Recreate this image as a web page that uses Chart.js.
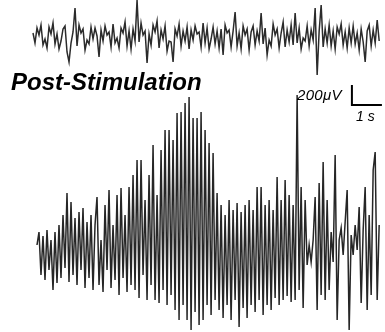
<!DOCTYPE html>
<html>
<head>
<meta charset="utf-8">
<script src="https://cdn.jsdelivr.net/npm/chart.js@4.4.0/dist/chart.umd.min.js"></script>
<style>
  body { margin: 0; background: #fff; }
  #wrap { position: relative; width: 385px; height: 332px; }
  .lbl { position: absolute; font-family: "Liberation Sans", Arial, sans-serif; font-style: italic; color: #000; white-space: nowrap; }
  #title { left: 11px; top: 68px; font-size: 24px; font-weight: bold; }
  #uv { left: 297px; top: 86px; font-size: 15px; letter-spacing: 0.3px; }
  #sec { left: 356px; top: 108px; font-size: 14px; }
</style>
</head>
<body>
<div id="wrap">
  <canvas id="eeg"></canvas>
  <div class="lbl" id="title">Post-Stimulation</div>
  <div class="lbl" id="uv">200μV</div>
  <div class="lbl" id="sec">1 s</div>
</div>
<script>
// sampling (seconds) and trace offsets (µV)
const dt = 0.0667;
const preStart = 1.1;
const postStart = 1.233;
const preBase = -370;
const postBase = -2550;

// baseline trace (top), µV
const preValues = [
  40, -60, 90, 20, 120, -80, -20, -110, 100, 30,
  140, -70, 30, -120, -40, 80, 110, -150, -250, -60,
  50, 290, -90, 120, 40, 80, -130, -30, -70, 100,
  -20, 90, 10, -200, 70, -40, 110, 20, 50, -100,
  130, -60, -10, -110, 90, 40, 150, -90, 60, -120,
  80, -40, 370, -50, 140, 20, 60, -260, 30, -80,
  120, 50, 160, -110, 70, -20, 110, -140, -40, -50,
  -250, 80, 10, 130, -90, 60, -40, 100, -120, 70,
  -30, 110, 30, 50, -100, 140, -60, 90, -120, -20,
  100, -70, 60, -110, 80, -180, 120, 40, 70, -100,
  60, 250, -90, 40, -120, 110, 20, 80, -130, 50,
  110, -80, 60, -40, 240, -70, 90, -180, -30, -90,
  130, 20, 80, -110, 40, 150, -100, 70, -50, 120,
  -80, 240, -60, 90, -120, -10, -40, 110, -90, 70,
  -30, 290, -380, 60, 320, -100, 80, -60, 120, -90,
  60, -120, 100, 30, 130, -80, 50, -110, 90, -60,
  110, -70, 40, -130, 80, -50, -250, 60, 120, -90,
  70, -60, 170, -40
];

// post-stimulation trace (bottom), µV
const postValues = [
  100, 230, -200, 190, -250, 250, -150, 150, -350, 230,
  -280, 300, -230, 400, -130, 620, -270, 530, -200, 370,
  -300, 430, -150, 470, -330, 330, -230, 400, -350, 300,
  580, -300, 150, -370, 500, -150, 650, -330, 300, -250,
  600, -400, 670, -230, 400, -370, 680, -300, 800, -350,
  950, -430, 950, -200, 550, -450, 800, -300, 1100, -450,
  600, -480, 1050, -350, 1250, -500, 1250, -400, 1150, -550,
  1420, -650, 1430, -500, 1520, -650, 1580, -750, 1370, -570,
  1370, -700, 1430, -650, 1250, -500, 1120, -600, 1020, -450,
  620, -550, 500, -630, 400, -500, 550, -650, 450, -450,
  520, -720, 430, -530, 500, -630, 550, -500, 450, -570,
  680, -450, 680, -600, 500, -500, 550, -550, 450, -430,
  780, -500, 550, -450, 750, -410, 600, -470, 500, -450,
  1600, -350, 680, -530, 550, -100, 100, -70, 150, 580,
  -550, 720, -400, 930, -450, 550, -350, 230, -70, 1000,
  -650, 150, 270, 0, 330, 650, -750, 200, 0, 300,
  50, 480, -480, 250, 680, -550, 400, -400, 850, 1030,
  -450, 300
];

// scale bar: 1 s x 200 µV
const barX = [11.73, 11.73, 12.73];
const barY = [-850, -1050, -1050];

const toPoints = (vals, t0, base) => vals.map((v, i) => ({ x: t0 + i * dt, y: base + v }));

new Chart(document.getElementById('eeg'), {
    type: 'line',
    data: {
        datasets: [{
            data: toPoints(preValues, preStart, preBase),
            borderColor: '#2b2b2b',
            borderWidth: 1.5,
            pointRadius: 0
        }, {
            data: toPoints(postValues, postStart, postBase),
            borderColor: '#262626',
            borderWidth: 1.5,
            pointRadius: 0
        }, {
            data: barX.map((x, i) => ({ x: x, y: barY[i] })),
            borderColor: '#000',
            borderWidth: 2,
            pointRadius: 0
        }]
    },
    options: {
        responsive: true,
        maintainAspectRatio: false,
        animation: false,
        layout: { padding: 0 },
        scales: {
            x: { type: 'linear', min: 0, max: 12.833, display: false },
            y: { type: 'linear', min: -3320, max: 0, display: false }
        },
        plugins: {
            legend: { display: false },
            tooltip: { enabled: false }
        }
    }
});
</script>
</body>
</html>
